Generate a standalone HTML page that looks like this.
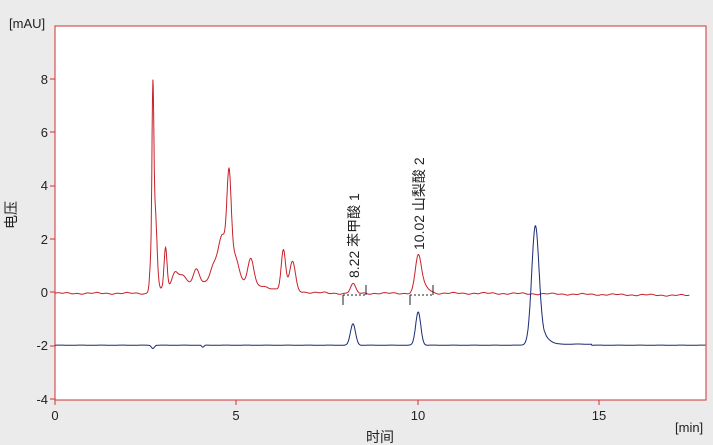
<!DOCTYPE html>
<html><head><meta charset="utf-8">
<style>
html,body{margin:0;padding:0;background:#ebebeb;}
svg{display:block;font-family:"Liberation Sans","Noto Sans CJK SC",sans-serif;}
</style></head>
<body>
<svg id="s" width="713" height="445" xmlns="http://www.w3.org/2000/svg">
<rect x="0" y="0" width="713" height="445" fill="#ebebeb"/>
<rect x="55" y="26" width="651" height="374" fill="#fff" stroke="#d03030" stroke-width="1"/>
<text x="9" y="28" font-size="13" fill="#222">[mAU]</text>
<g font-size="13" fill="#222" text-anchor="end">
<text x="48" y="84">8</text><text x="48" y="137">6</text><text x="48" y="190">4</text>
<text x="48" y="244">2</text><text x="48" y="297">0</text><text x="48" y="350">-2</text>
<text x="48" y="404">-4</text>
</g>
<g stroke="#d03030" stroke-width="1">
<line x1="50" y1="79" x2="55" y2="79"/><line x1="50" y1="132" x2="55" y2="132"/>
<line x1="50" y1="186" x2="55" y2="186"/><line x1="50" y1="239" x2="55" y2="239"/>
<line x1="50" y1="292" x2="55" y2="292"/><line x1="50" y1="346" x2="55" y2="346"/>
<line x1="50" y1="399" x2="55" y2="399"/>
<line x1="55" y1="400" x2="55" y2="405"/><line x1="236" y1="400" x2="236" y2="405"/>
<line x1="418" y1="400" x2="418" y2="405"/><line x1="599" y1="400" x2="599" y2="405"/>
</g>
<g font-size="13" fill="#222" text-anchor="middle">
<text x="55" y="420">0</text><text x="236" y="420">5</text><text x="418" y="420">10</text><text x="599" y="420">15</text>
</g>
<text x="675" y="432" font-size="13" fill="#222">[min]</text>
<text x="380" y="442" font-size="14" fill="#222" text-anchor="middle">时间</text>
<text transform="translate(16,215) rotate(-90)" font-size="14" fill="#222" text-anchor="middle">电压</text>
<path id="red" fill="none" stroke="#c8202a" stroke-width="1"/>
<path id="blue" fill="none" stroke="#1a2a70" stroke-width="1"/>
<g stroke="#222" stroke-width="1">
<line x1="343" y1="295" x2="343" y2="305"/><line x1="366" y1="285" x2="366" y2="295"/>
<line x1="343" y1="295" x2="366" y2="295" stroke-dasharray="2,2"/>
<line x1="410" y1="295" x2="410" y2="305"/><line x1="433" y1="285" x2="433" y2="295"/>
<line x1="410" y1="295" x2="433" y2="295" stroke-dasharray="2,2"/>
</g>
<text transform="translate(359,278) rotate(-90)" font-size="14" fill="#222">8.22 苯甲酸  1</text>
<text transform="translate(424,250) rotate(-90)" font-size="14" fill="#222">10.02 山梨酸  2</text>
</svg>
<script>
function X(t){return 55+36.25*t;}
function Y(v){return 292-26.6*v;}
function g(t,c,h,w){var d=(t-c)/w;return h*Math.exp(-0.5*d*d);}
var rp=[[2.7,6.0,0.025],[2.76,3.0,0.05],[2.65,1.0,0.04],[3.05,1.5,0.04],[3.3,0.5,0.08],[3.5,0.4,0.1],[3.9,0.5,0.08],[4.35,0.5,0.08],[4.55,1.1,0.1],[4.65,0.9,0.08],[4.8,3.6,0.06],[4.95,1.0,0.12],[5.4,1.0,0.08],[6.3,1.5,0.06],[6.55,1.1,0.08],[8.22,0.35,0.07],[10.02,1.25,0.08],[10.15,0.3,0.15]];
var bp=[[8.22,0.8,0.07],[10.02,1.25,0.07],[13.25,4.2,0.1],[13.4,0.4,0.18]];
var r="",b="";
for(var t=0;t<=17.5;t+=0.01){
 var v=-0.05+0.02*Math.sin(t*7)+0.015*Math.sin(t*23);
 if(t>2.6&&t<7.5){v+=0.45*Math.exp(-Math.pow((t-4.5)/1.6,2));}
 for(var i=0;i<rp.length;i++)v+=g(t,rp[i][0],rp[i][1],rp[i][2]);
 if(t>12)v-=0.08*(t-12)/5.5;
 r+=(t==0?"M":"L")+X(t).toFixed(1)+","+Y(v).toFixed(1);
}
for(var t=0;t<=17.95;t+=0.01){
 var v=-2+0.005*Math.sin(t*11);
 v-=g(t,2.7,0.12,0.04);v-=g(t,4.08,0.08,0.03);
 for(var i=0;i<bp.length;i++)v+=g(t,bp[i][0],bp[i][1],bp[i][2]);
 if(t>13.5&&t<14.8)v+=0.04;
 b+=(t==0?"M":"L")+X(t).toFixed(1)+","+Y(v).toFixed(1);
}
document.getElementById("red").setAttribute("d",r);
document.getElementById("blue").setAttribute("d",b);
</script>
</body></html>
